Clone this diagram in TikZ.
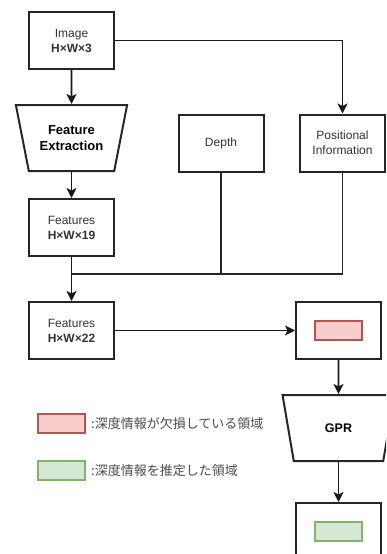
\documentclass[tikz,border=0pt]{standalone}
\usepackage{fontspec}
\setmainfont{Liberation Sans}
\newfontfamily\jpfont{Noto Sans CJK JP}
\usetikzlibrary{arrows.meta,shapes.geometric}
\definecolor{misfill}{HTML}{F8CECC}
\definecolor{misline}{HTML}{B85450}
\definecolor{estfill}{HTML}{D5E8D4}
\definecolor{estline}{HTML}{82B366}
\tikzset{
  blk/.style={draw=black!85, line width=2pt, minimum width=85pt, minimum height=57pt,
              inner sep=0pt, align=center, font=\fontsize{12}{15}\selectfont, text=black!80},
  trap/.style={trapezium, trapezium stretches=true, shape border rotate=180, trapezium angle=69,
               draw=black!85, line width=2pt, minimum width=112pt, minimum height=66pt,
               inner sep=0pt, align=center, font=\bfseries\fontsize{13}{16}\selectfont},
  conn/.style={-{Stealth[length=10pt,width=10pt,inset=2.5pt]}, line width=1.8pt, draw=black!90},
  link/.style={line width=1.8pt, draw=black!85},
  patch/.style={line width=1.3pt, minimum width=47pt, minimum height=19pt, inner sep=0pt},
  note/.style={anchor=west, inner sep=0pt, font=\jpfont\fontsize{13}{15}\selectfont, text=black!70},
}
\begin{document}
\begin{tikzpicture}[x=1pt, y=-1pt]
\path[use as bounding box, clip] (0,0) rectangle (386,554);

% --- left column ---
\node[blk] (img) at (71.5,40.5) {Image\\\textbf{H×W×3}};
\node[trap] (fe) at (71.5,138) {Feature\\Extraction};
\node[blk] (f19) at (71.5,227.5) {Features\\\textbf{H×W×19}};
\node[blk] (f22) at (71.5,330.5) {Features\\\textbf{H×W×22}};

% --- side inputs ---
\node[blk] (dep) at (221,143) {Depth};
\node[blk] (pos) at (342.5,143) {Positional\\Information};
\coordinate (join) at (71.5,274);

% --- right column ---
\node[blk] (miss) at (338.5,330.5) {};
\node[patch, draw=misline, fill=misfill] (missp) at (miss.center) {};
\node[trap, font=\bfseries\fontsize{12.5}{15}\selectfont] (gpr) at (338.5,428) {GPR};
\node[blk] (est) at (338.5,531.5) {};
\node[patch, draw=estline, fill=estfill] (estp) at (est.center) {};

% --- connectors ---
\draw[conn] (img) -- (fe);
\draw[conn] (fe) -- (f19);
\draw[conn] (img.east) -| (pos.north);
\draw[conn] (f19) -- (f22);
\draw[link] (dep.south) -- (dep.south |- join) -- (join);
\draw[link] (pos.south) |- (dep.south |- join);
\draw[conn] (f22) -- (miss);
\draw[conn] (miss) -- (gpr);
\draw[conn] (gpr) -- (est);

% --- legend ---
\node[patch, draw=misline, fill=misfill] (lgmiss) at (61.5,423.5) {};
\node[note] (lgmisst) at (91,423.5) {:深度情報が欠損している領域};
\node[patch, draw=estline, fill=estfill] (lgest) at (61.5,470.5) {};
\node[note] (lgestt) at (91,470.5) {:深度情報を推定した領域};
\end{tikzpicture}
\end{document}
